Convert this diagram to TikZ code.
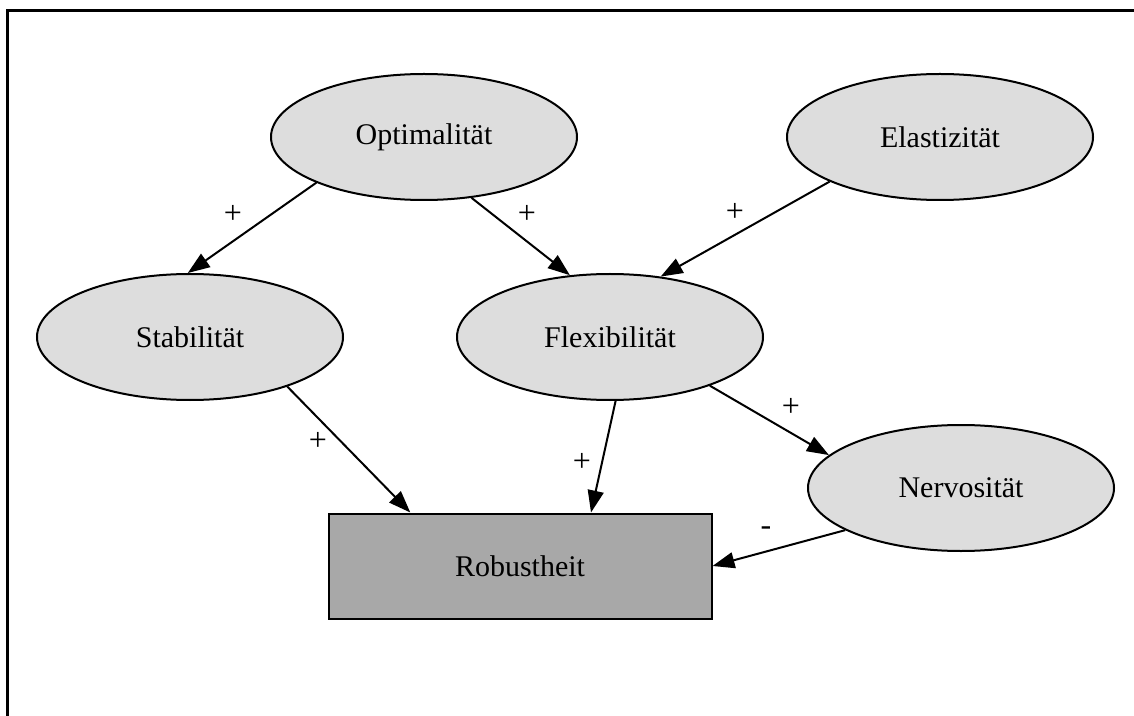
\documentclass[tikz,border=0pt]{standalone}
\usepackage{fontspec}
\setmainfont{Liberation Serif}
\usepackage{xcolor}
\usetikzlibrary{arrows.meta,shapes.geometric}
\definecolor{factorgray}{HTML}{DDDDDD}
\definecolor{targetgray}{HTML}{A8A8A8}
\tikzset{%
  tipG/.tip={Triangle[length=11pt,width=8pt]},
  factor/.style={ellipse, draw, line width=1pt, fill=factorgray,
    minimum width=153pt, minimum height=63pt, inner sep=0pt,
    font=\fontsize{15}{18}\selectfont},
  target/.style={rectangle, draw, line width=1pt, fill=targetgray,
    minimum width=191.5pt, minimum height=52.5pt, inner sep=0pt,
    font=\fontsize{15}{18}\selectfont},
  infl/.style={line width=1pt, -tipG},
  sign/.style={inner sep=0pt, font=\fontsize{16}{18}\selectfont}
}

\begin{document}
\begin{tikzpicture}[x=0.5pt,y=-0.5pt]
\useasboundingbox (0,0) rectangle (1134,716);
\draw[line width=1.5pt] (7.5,716) -- (7.5,10.5) -- (1134,10.5);
% nodes
\node[factor] (opt) at (424,137) {Optimalität};
\node[factor] (ela) at (940,137) {Elastizität};
\node[factor] (sta) at (190,337) {Stabilität};
\node[factor] (fle) at (610,337) {Flexibilität};
\node[factor] (ner) at (961,488) {Nervosität};
\node[target] (rob) at (520,566) {Robustheit};
% influences
\draw[infl] (opt.203) -- (sta.92);
\draw[infl] (opt.308) -- (fle.123);
\draw[infl] (ela.202) -- (fle.50);
\draw[infl] (sta.333) -- (rob.154);
\draw[infl] (fle.275) -- (rob.37);
\draw[infl] (fle.334) -- (ner.166);
\draw[infl] (ner.200) -- (rob.east);
% signs
\node[sign] (s1) at (233,214) {+};
\node[sign] (s2) at (527,214) {+};
\node[sign] (s3) at (735,212) {+};
\node[sign] (s4) at (318,441) {+};
\node[sign] (s5) at (582,462) {+};
\node[sign] (s6) at (791,407) {+};
\node[sign] (s7) at (766,531) {-};
\end{tikzpicture}
\end{document}
